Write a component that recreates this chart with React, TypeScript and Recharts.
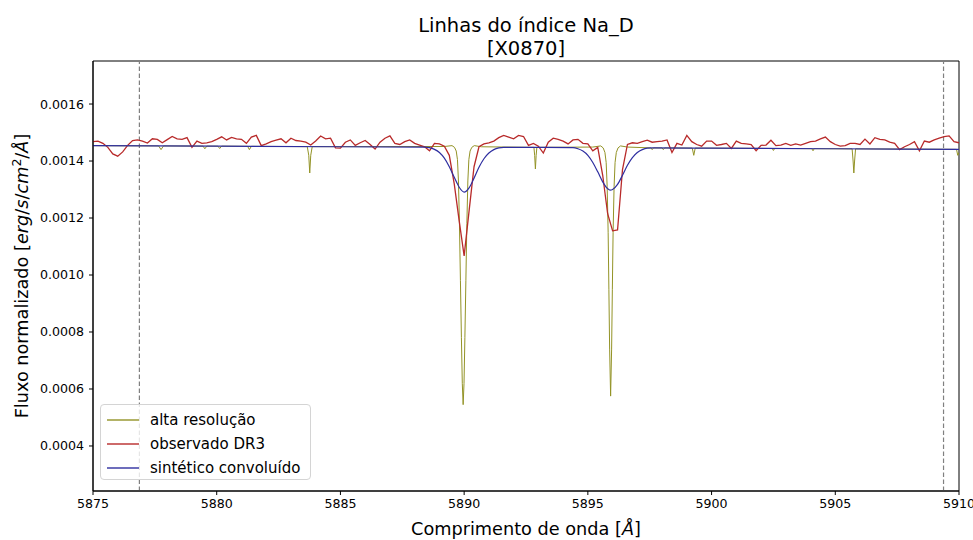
import { LineChart, Line, XAxis, YAxis, ReferenceLine, ReferenceArea } from "recharts";

// observed DR3 spectrum, sampled every 0.2 Å from 5875.0
const obsStart = 5875.0;
const obsStep = 0.2;
const obsFlux = [
  0.001468, 0.00147, 0.001462, 0.001448, 0.001425, 0.001417, 0.001432, 0.001455, 0.001472, 0.001474,
  0.00147, 0.001463, 0.001478, 0.001476, 0.001464, 0.001475, 0.001486, 0.001478, 0.001476, 0.001482,
  0.001448, 0.00147, 0.001462, 0.001464, 0.001468, 0.001476, 0.001485, 0.001474, 0.001483, 0.001478,
  0.001476, 0.001462, 0.001484, 0.00149, 0.001454, 0.00146, 0.001468, 0.001473, 0.001478, 0.001464,
  0.00148, 0.001472, 0.00147, 0.001466, 0.001456, 0.00147, 0.001488, 0.001478, 0.00148, 0.001446,
  0.001445, 0.001466, 0.001474, 0.001455, 0.001464, 0.001472, 0.001458, 0.001442, 0.001466, 0.00148,
  0.001488, 0.001462, 0.001458, 0.001468, 0.001474, 0.001462, 0.001456, 0.00145, 0.001436, 0.001462,
  0.00146, 0.001452, 0.00142, 0.00132, 0.00119, 0.001067, 0.001225, 0.00138, 0.00145, 0.00146,
  0.001464, 0.00147, 0.001482, 0.00149, 0.001484, 0.001478, 0.00149, 0.001486, 0.001455, 0.001462,
  0.001452, 0.001428, 0.001466, 0.00148, 0.001476, 0.00147, 0.00146, 0.001474, 0.001476, 0.001462,
  0.00146, 0.001436, 0.001448, 0.00135, 0.001215, 0.001155, 0.001158, 0.00137, 0.001458, 0.001464,
  0.001462, 0.001468, 0.001473, 0.001466, 0.001468, 0.00147, 0.001474, 0.00143, 0.001462, 0.001456,
  0.00149, 0.001468, 0.001458, 0.001452, 0.00147, 0.00147, 0.001455, 0.001458, 0.001462, 0.001444,
  0.00147, 0.001462, 0.00146, 0.001458, 0.001436, 0.001455, 0.001456, 0.001473, 0.001454, 0.001456,
  0.001462, 0.001455, 0.00146, 0.001456, 0.001462, 0.001468, 0.00147, 0.001478, 0.001484, 0.001468,
  0.001458, 0.001452, 0.001454, 0.001462, 0.001462, 0.001458, 0.001477, 0.00146, 0.001482, 0.001476,
  0.001474, 0.001466, 0.001462, 0.00144, 0.00145, 0.001458, 0.001468, 0.001436, 0.00147, 0.001466,
  0.001474, 0.00148, 0.001486, 0.001488, 0.001468, 0.001464,
];

// high resolution spectrum (irregular sampling)
const hrWave = [
  5875.0, 5877.65, 5877.75, 5877.85, 5879.45, 5879.52, 5879.6, 5880.05, 5880.12, 5880.2,
  5881.25, 5881.32, 5881.4, 5883.66, 5883.72, 5883.76, 5883.8, 5883.86, 5889.2,
  5889.51, 5889.61, 5889.68, 5889.73, 5889.77, 5889.81, 5889.85, 5889.89, 5889.925, 5889.96,
  5889.995, 5890.03, 5890.07, 5890.11, 5890.15, 5890.19, 5890.24, 5890.31, 5890.41, 5890.7,
  5892.75, 5892.82, 5892.85, 5892.88, 5892.91, 5892.94, 5893.1, 5895.2,
  5895.52, 5895.62, 5895.69, 5895.74, 5895.78, 5895.82, 5895.85, 5895.88, 5895.92,
  5895.96, 5895.99, 5896.02, 5896.06, 5896.1, 5896.15, 5896.22, 5896.32, 5896.6,
  5897.55, 5897.6, 5897.65, 5898.0, 5898.05, 5898.1, 5899.22, 5899.28, 5899.34,
  5902.45, 5902.5, 5902.55, 5904.05, 5904.1, 5904.15,
  5905.68, 5905.72, 5905.75, 5905.78, 5905.82, 5909.9, 5909.95, 5910.0,
];
const hrFlux = [
  0.001454, 0.001453, 0.00144, 0.001453, 0.0014522, 0.001443, 0.0014522, 0.001452, 0.001444, 0.001452,
  0.0014515, 0.00144, 0.0014515, 0.0014505, 0.00142, 0.001358, 0.00142, 0.0014505, 0.001451,
  0.001454, 0.001448, 0.001435, 0.001405, 0.00133, 0.00118, 0.00098, 0.00078, 0.00062, 0.000545,
  0.00062, 0.00078, 0.00098, 0.00118, 0.00133, 0.001405, 0.001435, 0.001448, 0.001454, 0.00145,
  0.001448, 0.001448, 0.00142, 0.001372, 0.00142, 0.001448, 0.001448, 0.001449,
  0.001453, 0.001446, 0.00143, 0.001395, 0.00131, 0.00115, 0.00095, 0.00074, 0.000575,
  0.00074, 0.00095, 0.00115, 0.00131, 0.001395, 0.00143, 0.001446, 0.001453, 0.001449,
  0.001446, 0.00144, 0.001446, 0.001446, 0.00144, 0.001446, 0.0014453, 0.00142, 0.0014453,
  0.001444, 0.001437, 0.001444, 0.0014434, 0.001436, 0.0014434,
  0.0014427, 0.0014, 0.001358, 0.0014, 0.0014427, 0.001441, 0.00142, 0.00143,
];

// synthetic convolved spectrum
const synWave = [
  5875.0, 5880.0, 5885.0, 5888.4, 5888.6, 5888.8, 5889.0, 5889.2, 5889.4, 5889.6, 5889.8, 5890.0,
  5890.2, 5890.4, 5890.6, 5890.8, 5891.0, 5891.2, 5891.4, 5891.6,
  5894.4, 5894.6, 5894.8, 5895.0, 5895.2, 5895.4, 5895.6, 5895.8, 5895.9, 5896.0,
  5896.2, 5896.4, 5896.6, 5896.8, 5897.0, 5897.2, 5897.4, 5897.6, 5900.0, 5905.0, 5910.0,
];
const synFlux = [
  0.001454, 0.001452, 0.00145, 0.001449, 0.001447, 0.001441, 0.00143, 0.00141, 0.00138, 0.001343, 0.001308, 0.001291,
  0.001306, 0.00134, 0.001378, 0.001408, 0.001428, 0.00144, 0.001446, 0.001448,
  0.001447, 0.001443, 0.001435, 0.00142, 0.001395, 0.001362, 0.001327, 0.001303, 0.001298, 0.0013,
  0.001318, 0.00135, 0.001385, 0.001412, 0.00143, 0.00144, 0.001445, 0.001446, 0.001445, 0.001443, 0.001441,
];

const xTicks = [5875, 5880, 5885, 5890, 5895, 5900, 5905, 5910];
const yTicks = [0.0004, 0.0006, 0.0008, 0.001, 0.0012, 0.0014, 0.0016];
const bandLimits = [5876.875, 5909.375];

const xDomain = [5875, 5910];
const yDomain = [0.000242, 0.001751];

const FONT = "DejaVu Sans, sans-serif";
const C_HR = "#939326";
const C_OBS = "#b82a2a";
const C_SYN = "#2e2ea0";

const obsData = obsFlux.map((f, i) => ({ w: obsStart + i * obsStep, f }));
const hrData = hrWave.map((w, i) => ({ w, f: hrFlux[i] }));
const synData = synWave.map((w, i) => ({ w, f: synFlux[i] }));

const legendItems = [
  { label: "alta resolução", color: C_HR },
  { label: "observado DR3", color: C_OBS },
  { label: "sintético convoluído", color: C_SYN },
];

export default function App() {
  return (
    <div style={{ position: "absolute", left: 0, top: 0, width: 973, height: 540, fontFamily: FONT, background: "#fff" }}>
      <LineChart width={973} height={540} margin={{ top: 61, right: 14, bottom: 0, left: 8 }}>
        <XAxis
          type="number"
          dataKey="w"
          domain={xDomain}
          ticks={xTicks}
          allowDataOverflow
          height={49}
          tickSize={4}
          tickMargin={4}
          stroke="#000"
          tick={{ fill: "#000", fontSize: 12.6, fontFamily: FONT }}
        />
        <YAxis
          type="number"
          domain={yDomain}
          ticks={yTicks}
          allowDataOverflow
          width={85}
          tickSize={4}
          tickMargin={5}
          stroke="#000"
          tickFormatter={(v: number) => v.toFixed(4)}
          tick={{ fill: "#000", fontSize: 12.6, fontFamily: FONT }}
        />
        {bandLimits.map(b => (
          <ReferenceLine key={b} x={b} stroke="#808080" strokeWidth={1.2} strokeDasharray="4.5 2.5" />
        ))}
        <Line data={hrData} dataKey="f" type="linear" stroke={C_HR} strokeWidth={1} dot={false} isAnimationActive={false} />
        <Line data={obsData} dataKey="f" type="linear" stroke={C_OBS} strokeWidth={1.3} dot={false} isAnimationActive={false} />
        <Line data={synData} dataKey="f" type="monotone" stroke={C_SYN} strokeWidth={1.2} dot={false} isAnimationActive={false} />
        <ReferenceArea x1={xDomain[0]} x2={xDomain[1]} y1={yDomain[0]} y2={yDomain[1]} fill="none" stroke="#000" strokeWidth={1} />
      </LineChart>

      <svg width={973} height={540} style={{ position: "absolute", left: 0, top: 0, pointerEvents: "none" }}>
        <text x={526} y={32} textAnchor="middle" fontSize={19.5} fontFamily={FONT} fill="#000">Linhas do índice Na_D</text>
        <text x={526} y={55} textAnchor="middle" fontSize={19.5} fontFamily={FONT} fill="#000">[X0870]</text>
        <text x={526} y={535} textAnchor="middle" fontSize={17.7} fontFamily={FONT} fill="#000">
          Comprimento de onda [<tspan fontStyle="italic">Å</tspan>]
        </text>
        <text x={0} y={0} transform="translate(28,276) rotate(-90)" textAnchor="middle" fontSize={17.7} fontFamily={FONT} fill="#000">
          Fluxo normalizado [<tspan fontStyle="italic">erg</tspan>/<tspan fontStyle="italic">s</tspan>/<tspan fontStyle="italic">cm</tspan>
          <tspan fontSize={12.5} dy={-7}>2</tspan>
          <tspan dy={7}>/</tspan><tspan fontStyle="italic">Å</tspan>]
        </text>
      </svg>

      <div
        style={{
          position: "absolute",
          left: 100,
          top: 404,
          width: 211,
          height: 76,
          border: "1px solid #d4d4d4",
          borderRadius: 4,
          background: "rgba(255,255,255,0.8)",
          boxSizing: "border-box",
        }}
      >
        {legendItems.map((it, i) => (
          <div key={it.label} style={{ position: "absolute", left: 6, top: 4 + i * 24, height: 22, display: "flex", alignItems: "center" }}>
            <svg width={32} height={6} style={{ display: "block" }}>
              <line x1={0} y1={3} x2={32} y2={3} stroke={it.color} strokeWidth={1.4} />
            </svg>
            <span style={{ marginLeft: 11, fontSize: 15, color: "#000", whiteSpace: "nowrap" }}>{it.label}</span>
          </div>
        ))}
      </div>
    </div>
  );
}
